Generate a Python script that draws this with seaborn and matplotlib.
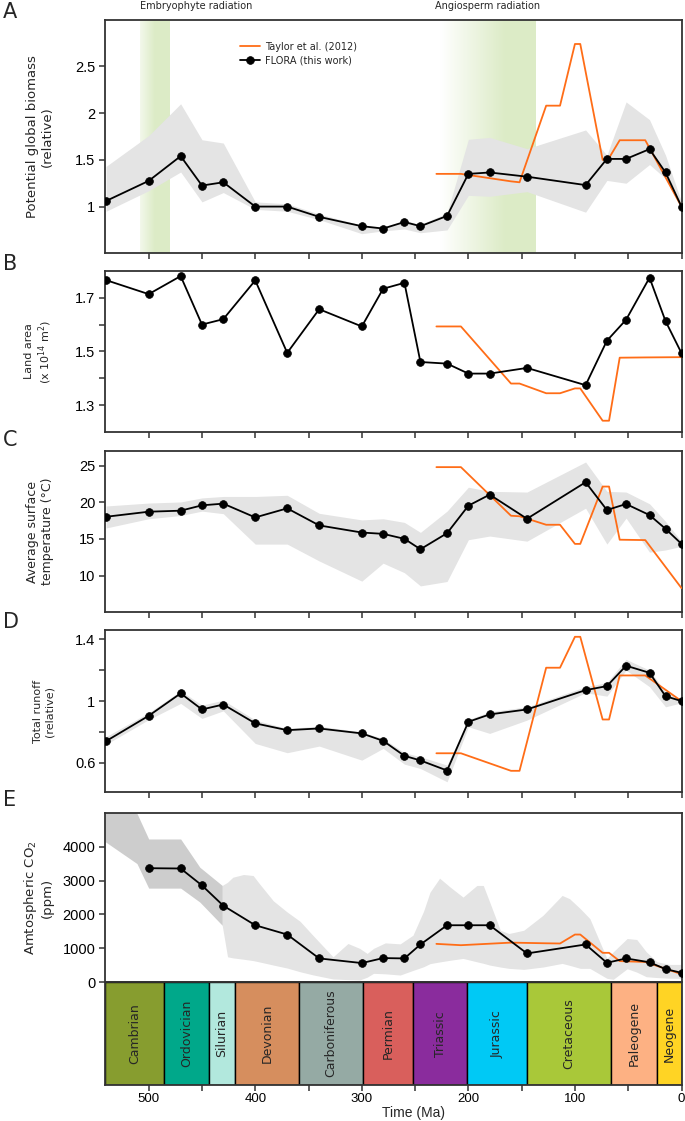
import numpy as np
import matplotlib
matplotlib.use("Agg")
import matplotlib.pyplot as plt
import matplotlib.transforms as mtransforms
import seaborn as sns

# --- data -----------------------------------------------------------------
flora_age = [540, 500, 470, 450, 430, 400, 370, 340, 300, 280, 260, 245, 220, 200, 180, 145, 90, 70, 52, 30, 15, 0]

biomass = [1.06, 1.275, 1.54, 1.225, 1.26, 1.0, 1.0, 0.89, 0.79, 0.765, 0.835, 0.79, 0.90, 1.35, 1.365, 1.32, 1.23, 1.51, 1.51, 1.615, 1.365, 1.0]
biomass_lo = [0.95, 1.17, 1.37, 1.05, 1.15, 0.97, 0.95, 0.86, 0.71, 0.74, 0.76, 0.72, 0.75, 1.12, 1.11, 1.16, 0.94, 1.28, 1.25, 1.45, 1.30, 0.97]
biomass_hi = [1.43, 1.76, 2.10, 1.715, 1.68, 1.05, 1.03, 0.92, 0.80, 0.78, 0.85, 0.81, 0.93, 1.72, 1.74, 1.62, 1.82, 1.55, 2.12, 1.93, 1.55, 1.05]

land_area = [1.765, 1.713, 1.78, 1.60, 1.62, 1.764, 1.495, 1.657, 1.593, 1.733, 1.755, 1.461, 1.455, 1.418, 1.418, 1.439, 1.375, 1.54, 1.618, 1.774, 1.613, 1.494]

temp = [18.03, 18.72, 18.86, 19.59, 19.82, 17.94, 19.18, 16.85, 15.88, 15.70, 15.02, 13.6, 15.79, 19.54, 21.05, 17.76, 22.74, 18.95, 19.77, 18.26, 16.39, 14.33]
temp_lo = [16.5, 17.76, 18.2, 18.8, 18.45, 14.3, 14.3, 12.0, 9.25, 11.7, 10.4, 8.6, 9.2, 14.9, 15.4, 14.7, 19.2, 14.3, 17.85, 13.2, 13.5, 14.0]
temp_hi = [19.5, 19.9, 20.05, 20.6, 20.8, 20.8, 20.96, 18.5, 17.6, 17.76, 17.26, 15.9, 18.8, 22.06, 21.5, 21.4, 25.5, 21.5, 21.4, 19.8, 17.4, 14.65]

runoff = [0.741, 0.905, 1.05, 0.946, 0.978, 0.856, 0.812, 0.823, 0.791, 0.743, 0.646, 0.616, 0.551, 0.866, 0.914, 0.946, 1.071, 1.097, 1.229, 1.183, 1.032, 1.0]
runoff_lo = [0.72, 0.88, 0.985, 0.888, 0.937, 0.726, 0.666, 0.709, 0.618, 0.694, 0.592, 0.564, 0.478, 0.834, 0.791, 0.877, 1.054, 1.032, 1.2, 1.093, 0.963, 0.989]
runoff_hi = [0.77, 0.925, 1.067, 0.974, 1.006, 0.877, 0.823, 0.838, 0.80, 0.758, 0.666, 0.64, 0.586, 0.881, 0.931, 0.963, 1.093, 1.12, 1.27, 1.2, 1.06, 1.006]

co2_age = flora_age[1:]
co2 = [3364, 3355, 2856, 2259, 1682, 1408, 704, 567, 714, 704, 1115, 1682, 1682, 1682, 851, 1115, 575, 704, 590, 390, 280]

# CO2 uncertainty: early (dark) and later (light) envelopes
co2_dark_age = [541, 511, 500, 470, 452, 431]
co2_dark_lo = [4150, 3500, 2776, 2776, 2365, 1681]
co2_dark_hi = [5600, 4980, 4225, 4225, 3392, 2855]

co2_light_age = [431, 426, 421, 411, 402, 396, 383, 370, 358, 346, 327, 313, 302, 295, 289, 278, 264, 252, 242, 236,
                 227, 217, 205, 192, 186, 180, 170, 162, 148, 130, 112, 105, 95, 86, 80, 70, 64, 51, 42, 33, 23, 11, 0]
co2_light_lo = [1681, 751, 720, 680, 640, 600, 508, 420, 312, 220, 97, 80, 68, 150, 264, 250, 214, 350, 458, 550,
                600, 650, 704, 604, 560, 508, 450, 411, 381, 450, 557, 500, 411, 411, 300, 117, 88, 400, 300, 164, 140, 120, 117]
co2_light_hi = [2855, 2950, 3098, 3178, 3148, 2904, 2400, 2071, 1800, 1388, 751, 1144, 1000, 851, 1000, 1162, 1133, 1388, 2100, 2658,
                3069, 2805, 2512, 2855, 2855, 2365, 1535, 1438, 1535, 1975, 2561, 2464, 2171, 1878, 1438, 704, 900, 1291, 1262, 898, 604, 528, 528]

taylor_age = [230, 207, 160, 152, 127, 114, 100, 95, 74, 68, 58, 34, 0]
taylor_biomass = [1.35, 1.35, 1.27, 1.26, 2.08, 2.08, 2.74, 2.74, 1.50, 1.52, 1.71, 1.71, 1.0]
taylor_land = [1.593, 1.593, 1.381, 1.381, 1.345, 1.345, 1.363, 1.363, 1.243, 1.243, 1.477, 1.478, 1.479]
taylor_temp = [24.8, 24.8, 18.17, 18.1, 16.94, 16.94, 14.33, 14.33, 22.15, 22.15, 14.9, 14.85, 8.3]
taylor_runoff = [0.6625, 0.6625, 0.549, 0.549, 1.216, 1.216, 1.416, 1.416, 0.881, 0.881, 1.166, 1.166, 1.0]
taylor_co2 = [1133, 1094, 1170, 1165, 1150, 1144, 1408, 1408, 869, 869, 625, 600, 240]

periods = ["Cambrian", "Ordovician", "Silurian", "Devonian", "Carboniferous", "Permian",
           "Triassic", "Jurassic", "Cretaceous", "Paleogene", "Neogene"]
period_start = [541, 485.4, 443.8, 419.2, 358.9, 298.9, 251.9, 201.3, 145, 66, 23]
period_end = [485.4, 443.8, 419.2, 358.9, 298.9, 251.9, 201.3, 145, 66, 23, 0]
period_colors = ["#879d2f", "#00a88a", "#b2e8dd", "#d68e5e", "#95aaa4", "#d95f5c",
                 "#8a2c9d", "#00c9f5", "#a9c839", "#fdb183", "#ffd424"]

# --- style ------------------------------------------------------------------
sns.set_theme(style="ticks")
plt.rcParams["font.family"] = ["Liberation Sans Narrow", "Liberation Sans", "DejaVu Sans"]
plt.rcParams.update({
    "axes.edgecolor": "#333333",
    "axes.linewidth": 1.3,
    "xtick.major.size": 4, "ytick.major.size": 4,
    "xtick.minor.size": 4, "ytick.minor.size": 4,
    "xtick.major.width": 1.1, "ytick.major.width": 1.1,
    "xtick.minor.width": 1.1, "ytick.minor.width": 1.1,
    "xtick.major.pad": 2.5, "ytick.major.pad": 3,
    "xtick.color": "#333333", "ytick.color": "#333333",
    "xtick.labelsize": 10, "ytick.labelsize": 10.5,
    "xtick.labelcolor": "black", "ytick.labelcolor": "black",
})

ORANGE = "#ff6d17"
BAND = "#e4e4e4"
LABEL_FONT = "DejaVu Sans"

W, H = 685, 1121
fig = plt.figure(figsize=(W / 100, H / 100), dpi=100)


def add_ax(top_px, bottom_px):
    left, right = 105, 681.5
    return fig.add_axes([left / W, 1 - bottom_px / H, (right - left) / W, (bottom_px - top_px) / H])


axA = add_ax(19.7, 253.3)
axB = add_ax(270.7, 432.3)
axC = add_ax(451, 612.3)
axD = add_ax(630, 792.3)
axE = add_ax(812.7, 982.3)
axT = add_ax(982.3, 1085)


def flora_line(ax, x, y, label=None):
    sns.lineplot(x=x, y=y, ax=ax, color="black", lw=1.3, marker="o", markersize=5.6,
                 markeredgecolor="black", markeredgewidth=0.5, sort=False, label=label, zorder=4)


def taylor_line(ax, y, label=None):
    sns.lineplot(x=taylor_age, y=y, ax=ax, color=ORANGE, lw=1.3, sort=False, label=label, zorder=3)


def green_band(ax, old, fade_end, young, alpha0):
    n = 200
    ages = np.linspace(old, young, n)
    alpha = np.clip(alpha0 + (1 - alpha0) * (old - ages) / (old - fade_end), 0, 1)
    img = np.zeros((1, n, 4))
    img[..., 0], img[..., 1], img[..., 2] = 0.865, 0.922, 0.78
    img[0, :, 3] = alpha
    ax.imshow(img, extent=(old, young, 0, 10), aspect="auto", zorder=0, interpolation="bilinear")


# A: biomass
green_band(axA, 508, 494, 480, 0.35)
green_band(axA, 227, 166, 137.5, 0.0)
axA.fill_between(flora_age, biomass_lo, biomass_hi, color=BAND, lw=0, zorder=1)
taylor_line(axA, taylor_biomass, "Taylor et al. (2012)")
flora_line(axA, flora_age, biomass, "FLORA (this work)")
axA.set_ylim(0.5, 3.0)
axA.set_yticks([1, 1.5, 2, 2.5])
axA.set_yticklabels(["1", "1.5", "2", "2.5"])
axA.legend(loc="upper left", bbox_to_anchor=(0.235, 0.905), frameon=False, borderpad=0,
           borderaxespad=0, handlelength=2.0, handletextpad=0.5, labelspacing=0.35,
           prop={"family": LABEL_FONT, "size": 7})
trA = mtransforms.blended_transform_factory(axA.transData, axA.transAxes)
axA.text(508, 1.06, "Embryophyte radiation", transform=trA, ha="left", va="center",
         fontsize=7, family=LABEL_FONT)
axA.text(231, 1.06, "Angiosperm radiation", transform=trA, ha="left", va="center",
         fontsize=7, family=LABEL_FONT)
axA.set_ylabel("Potential global biomass\n(relative)", family=LABEL_FONT, fontsize=9.5)

# B: land area
taylor_line(axB, taylor_land)
flora_line(axB, flora_age, land_area)
axB.set_ylim(1.2, 1.8)
axB.set_yticks([1.3, 1.5, 1.7])
axB.set_yticks([1.4, 1.6], minor=True)
axB.set_ylabel("Land area\n(x 10$^{14}$ m$^{2}$)", family=LABEL_FONT, fontsize=8)

# C: temperature
axC.fill_between(flora_age, temp_lo, temp_hi, color=BAND, lw=0, zorder=1)
taylor_line(axC, taylor_temp)
flora_line(axC, flora_age, temp)
axC.set_ylim(5, 27)
axC.set_yticks([10, 15, 20, 25])
axC.set_ylabel("Average surface\ntemperature (°C)", family=LABEL_FONT, fontsize=9)

# D: runoff
axD.fill_between(flora_age, runoff_lo, runoff_hi, color=BAND, lw=0, zorder=1)
taylor_line(axD, taylor_runoff)
flora_line(axD, flora_age, runoff)
axD.set_ylim(0.41, 1.46)
axD.set_yticks([0.6, 1.0, 1.4])
axD.set_yticklabels(["0.6", "1", "1.4"])
axD.set_yticks([0.8, 1.2], minor=True)
axD.set_ylabel("Total runoff\n(relative)", family=LABEL_FONT, fontsize=8)

# E: CO2
axE.fill_between(co2_light_age, co2_light_lo, co2_light_hi, color=BAND, lw=0, zorder=1)
axE.fill_between(co2_dark_age, co2_dark_lo, co2_dark_hi, color="#cdcdcd", lw=0, zorder=1)
taylor_line(axE, taylor_co2)
flora_line(axE, co2_age, co2)
axE.set_ylim(0, 5000)
axE.set_yticks([0, 1000, 2000, 3000, 4000])
axE.set_ylabel("Amtospheric CO$_2$\n(ppm)", family=LABEL_FONT, fontsize=9.5)

for ax in [axA, axB, axC, axD, axE]:
    ax.set_xlim(541, 0)
    ax.set_xticks(np.arange(0, 501, 50))
    ax.set_xticklabels([])
    ax.set_xlabel("")
    ax.tick_params(axis="both", which="both", top=False, right=False)
    ax.yaxis.set_label_coords(-0.088, 0.5)
axE.tick_params(axis="x", which="both", bottom=False)

# geological time scale
widths = np.subtract(period_start, period_end)
axT.bar(period_end, 1, width=widths, align="edge", color=period_colors, edgecolor="black", lw=1.0)
for name, s, e in zip(periods, period_start, period_end):
    axT.text((s + e) / 2, 0.5, name, rotation=90, ha="center", va="center",
             fontsize=9, family=LABEL_FONT)
axT.set_xlim(541, 0)
axT.set_ylim(0, 1)
axT.set_yticks([])
axT.set_xticks(np.arange(0, 501, 100))
axT.set_xticks(np.arange(50, 500, 100), minor=True)
axT.tick_params(axis="x", which="both", top=False, labelsize=9.5, pad=2)
axT.set_xlabel("")
fig.text(414 / W, 1 / H, "Time (Ma)", fontsize=10, ha="center", va="bottom")

for ax, letter, ypx in zip([axA, axB, axC, axD, axE], "ABCDE", [12, 264, 440, 622, 800]):
    fig.text(3 / W, 1 - ypx / H, letter, fontsize=15, family=LABEL_FONT, ha="left", va="center")

fig.savefig("out.png", dpi=100)
